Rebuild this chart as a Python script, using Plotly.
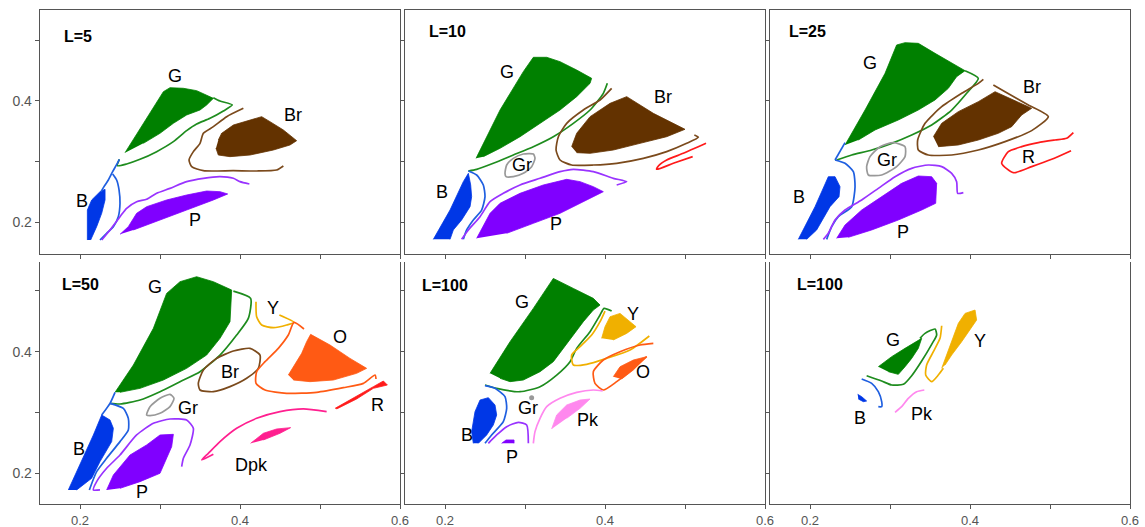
import plotly.graph_objects as go

# ---------------- axes / ticks ----------------
X_RANGE = [0.15, 0.6]
Y_RANGE_TOP = [0.1471, 0.5504]
Y_RANGE_BOTTOM = [0.15, 0.5475]
X_TICKS = [0.2, 0.3, 0.4, 0.5, 0.6]
X_TICK_TEXT = ["0.2", "", "0.4", "", "0.6"]
Y_TICKS = [0.2, 0.3, 0.4, 0.5]
Y_TICK_TEXT = ["0.2", "", "0.4", ""]
PANEL_TITLES = ["L=5", "L=10", "L=25", "L=50", "L=100", "L=100"]
TITLE_X = [0.177, 0.1771, 0.1708, 0.175, 0.1688, 0.1813]
TITLE_Y = [0.507, 0.5146, 0.5146, 0.5107, 0.5096, 0.5107]

COL = {
    "G": "#008000", "Gl": "#1e8c1e",
    "Br": "#633200", "Brl": "#7b4a1c",
    "B": "#0037e6", "Bl": "#1f5fe0",
    "P": "#8000ff", "Pl": "#9933ff",
    "Gr": "#999999", "R": "#ff1a1a",
    "Y": "#f0b000", "O": "#ff5a14",
    "Dpk": "#ff1f8f", "Pk": "#ff88ee",
}

# ---------------- Panel 1: L=5 ----------------
p1_G_fill_x = [0.2563,0.3042,0.3125,0.3292,0.3458,0.3667,0.3583,0.35,0.3333,0.3167,0.3,0.2792]
p1_G_fill_y = [0.3146,0.4154,0.422,0.421,0.4171,0.4044,0.3934,0.3851,0.3769,0.3631,0.3466,0.33]
p1_G_line_x = [0.2492,0.2467,0.2583,0.275,0.2958,0.3167,0.3333,0.3458,0.3625,0.3792,0.3904,0.375,0.3667]
p1_G_line_y = [0.3036,0.2931,0.2959,0.3036,0.3163,0.3328,0.351,0.362,0.3713,0.3835,0.3934,0.4,0.4055]
p1_Br_fill_x = [0.3729,0.3771,0.3917,0.4125,0.4271,0.4375,0.4542,0.4708,0.4625,0.4417,0.4125,0.3875,0.3729,0.37]
p1_Br_fill_y = [0.3355,0.3466,0.3603,0.3686,0.3741,0.3658,0.3521,0.3344,0.3273,0.319,0.3107,0.308,0.3107,0.3218]
p1_Br_line_x = [0.4042,0.3833,0.3667,0.3542,0.35,0.3417,0.3363,0.3396,0.3542,0.3917,0.4208,0.4458,0.4542]
p1_Br_line_y = [0.3879,0.3741,0.3576,0.3466,0.33,0.3163,0.3025,0.2915,0.2848,0.2848,0.2843,0.2859,0.2926]
p1_B_fill_x = [0.2092,0.2092,0.2146,0.225,0.2313,0.2313,0.2271,0.2208,0.2133]
p1_B_fill_y = [0.1702,0.2198,0.2364,0.2501,0.254,0.2364,0.2143,0.1923,0.1702]
p1_B_line1_x = [0.2492,0.245,0.2408,0.2354,0.23,0.2263]
p1_B_line1_y = [0.3036,0.2931,0.2832,0.2694,0.2584,0.2501]
p1_B_line2_x = [0.2408,0.2458,0.2488,0.25,0.2479,0.2417,0.2333,0.225]
p1_B_line2_y = [0.2793,0.2694,0.2529,0.2309,0.2088,0.1923,0.1813,0.1702]
p1_P_line_x = [0.2271,0.2375,0.25,0.2583,0.2708,0.2833,0.2958,0.3125,0.3333,0.3542,0.375,0.3917,0.4,0.4117]
p1_P_line_y = [0.1702,0.1868,0.2088,0.2226,0.2336,0.2375,0.2474,0.2556,0.2667,0.2722,0.2749,0.2722,0.2667,0.2628]
p1_P_fill_x = [0.25,0.2604,0.2708,0.2833,0.3083,0.3333,0.3583,0.375,0.3846,0.3667,0.3333,0.3,0.2667]
p1_P_fill_y = [0.1796,0.1923,0.2143,0.2253,0.2364,0.2446,0.2512,0.2501,0.2463,0.2364,0.2198,0.2033,0.1868]

# ---------------- Panel 2: L=10 ----------------
p2_G_fill_x = [0.2388,0.2688,0.2979,0.3104,0.3271,0.3438,0.3646,0.3833,0.3813,0.3646,0.3438,0.3188,0.2938,0.2688,0.2479]
p2_G_fill_y = [0.3052,0.3851,0.4485,0.4722,0.4722,0.465,0.4512,0.4375,0.4292,0.4072,0.3851,0.3631,0.341,0.3218,0.308]
p2_G_line_x = [0.2292,0.2396,0.2604,0.2854,0.3104,0.3354,0.3604,0.3813,0.3979,0.4029]
p2_G_line_y = [0.2843,0.287,0.297,0.3107,0.3245,0.341,0.3631,0.3851,0.4127,0.4292]
p2_Br_fill_x = [0.3583,0.3646,0.3813,0.4063,0.4271,0.4604,0.5,0.4771,0.4438,0.4104,0.3813,0.3646]
p2_Br_fill_y = [0.3245,0.3466,0.3741,0.3961,0.4072,0.3796,0.3532,0.341,0.33,0.319,0.3135,0.3146]
p2_Br_line_x = [0.4083,0.3938,0.3729,0.3521,0.3417,0.3388,0.3438,0.3583,0.3854,0.4146,0.4479,0.4771,0.5021,0.5167,0.5117]
p2_Br_line_y = [0.4209,0.4017,0.3851,0.3631,0.341,0.319,0.3025,0.2942,0.2942,0.297,0.3052,0.3163,0.33,0.34,0.3438]
p2_R_line_x = [0.5263,0.4979,0.4771,0.4667,0.4646,0.4854,0.5096]
p2_R_line_y = [0.33,0.3135,0.3025,0.2926,0.287,0.297,0.308]
p2_Gr_line_x = [0.275,0.2771,0.2854,0.2979,0.3104,0.3125,0.3083,0.2979,0.2854,0.2763,0.275]
p2_Gr_line_y = [0.2804,0.2942,0.3052,0.3124,0.3124,0.3052,0.2915,0.2804,0.2749,0.2749,0.2804]
p2_B_fill_x = [0.1854,0.2063,0.2229,0.2292,0.2321,0.2333,0.2313,0.2208,0.2104,0.2063]
p2_B_fill_y = [0.1713,0.2198,0.2667,0.2804,0.2612,0.2419,0.2253,0.2033,0.1868,0.1713]
p2_B_line_x = [0.2292,0.2396,0.2479,0.25,0.2458,0.2354,0.2271,0.2229]
p2_B_line_y = [0.2843,0.2777,0.2612,0.2419,0.2198,0.2033,0.1868,0.1713]
p2_P_line_x = [0.2208,0.2292,0.2438,0.2563,0.2729,0.2938,0.3188,0.3438,0.3604,0.3854,0.4104,0.4271,0.4146]
p2_P_line_y = [0.1713,0.1868,0.2088,0.2336,0.2474,0.2612,0.2722,0.2832,0.2871,0.2832,0.2722,0.2667,0.2612]
p2_P_fill_x = [0.2396,0.2563,0.2688,0.2938,0.3229,0.3521,0.3688,0.3854,0.3979,0.3771,0.3438,0.3104,0.2771]
p2_P_fill_y = [0.173,0.2143,0.2309,0.2474,0.2612,0.2705,0.2667,0.2584,0.2501,0.2364,0.2143,0.1978,0.1813]

# ---------------- Panel 3: L=25 ----------------
p3_G_fill_x = [0.2438,0.2688,0.2938,0.3083,0.3188,0.3354,0.3563,0.3771,0.3938,0.3833,0.3729,0.3563,0.3354,0.3104,0.2813,0.2604]
p3_G_fill_y = [0.3273,0.3851,0.4457,0.4926,0.4964,0.4953,0.4788,0.4623,0.4501,0.4402,0.4209,0.4017,0.3851,0.3686,0.3521,0.3355]
p3_G_line_x = [0.2333,0.2521,0.2771,0.3021,0.3271,0.3521,0.3771,0.3958,0.4104,0.3938]
p3_G_line_y = [0.3025,0.3107,0.319,0.33,0.3438,0.3603,0.3851,0.4127,0.4375,0.4501]
p3_B_line1_x = [0.2438,0.2313]
p3_B_line1_y = [0.3311,0.3025]
p3_B_line2_x = [0.2313,0.2438,0.2542,0.2563,0.2521,0.2354,0.2271,0.2208]
p3_B_line2_y = [0.3025,0.297,0.2832,0.2584,0.2253,0.2088,0.1923,0.1713]
p3_B_fill_x = [0.1854,0.2063,0.2229,0.2313,0.2375,0.2363,0.225,0.2083,0.1958]
p3_B_fill_y = [0.1713,0.2253,0.2749,0.2749,0.2584,0.2419,0.2253,0.1868,0.1713]
p3_Br_fill_x = [0.3542,0.3646,0.3854,0.4104,0.4313,0.4771,0.4646,0.4521,0.4354,0.4104,0.3854,0.3604]
p3_Br_fill_y = [0.341,0.3631,0.3824,0.3989,0.4154,0.3879,0.3769,0.3576,0.3466,0.3355,0.3273,0.3245]
p3_Br_line_x = [0.4167,0.4104,0.3896,0.3646,0.3438,0.3346,0.3354,0.3479,0.3771,0.4104,0.4438,0.4771,0.4979,0.4729,0.4438,0.4292]
p3_Br_line_y = [0.4358,0.4292,0.4127,0.3906,0.3631,0.3355,0.319,0.3107,0.3107,0.319,0.3328,0.351,0.3741,0.3934,0.4154,0.4264]
p3_R_line_x = [0.5292,0.5208,0.5063,0.4854,0.4646,0.4479,0.4396,0.4542,0.4771,0.5021,0.5263]
p3_R_line_y = [0.3477,0.3383,0.3355,0.3311,0.3245,0.3163,0.297,0.2815,0.2915,0.3036,0.3179]
p3_Gr_line_x = [0.2708,0.275,0.2875,0.3042,0.3188,0.3188,0.3083,0.2896,0.2729,0.2708]
p3_Gr_line_y = [0.2915,0.308,0.3245,0.3311,0.3245,0.308,0.2915,0.2777,0.2777,0.2915]
p3_P_line_x = [0.2167,0.2229,0.2313,0.2438,0.2646,0.2854,0.3063,0.3271,0.3479,0.3646,0.3771,0.3833,0.3846,0.3917]
p3_P_line_y = [0.1713,0.1813,0.2033,0.2198,0.2364,0.2556,0.2749,0.2887,0.2942,0.2915,0.2804,0.2667,0.2474,0.2485]
p3_P_fill_x = [0.2333,0.2438,0.2646,0.2896,0.3146,0.3354,0.3521,0.3583,0.3571,0.3396,0.3104,0.2771,0.2479]
p3_P_fill_y = [0.173,0.195,0.2198,0.2419,0.2639,0.276,0.2749,0.2639,0.2309,0.2198,0.2033,0.1868,0.1747]

# ---------------- Panel 4: L=50 ----------------
p4_G_fill_x = [0.2438,0.2667,0.2917,0.3083,0.325,0.3458,0.3667,0.3896,0.3875,0.375,0.3583,0.3333,0.3042,0.275,0.25]
p4_G_fill_y = [0.3332,0.3781,0.4384,0.4959,0.5151,0.5233,0.5151,0.5014,0.4493,0.4219,0.3945,0.3726,0.3534,0.3397,0.3332]
p4_G_line_x = [0.2375,0.25,0.275,0.3,0.325,0.35,0.375,0.3958,0.4104,0.4133,0.3917]
p4_G_line_y = [0.3151,0.314,0.3205,0.3342,0.3507,0.3671,0.3945,0.4274,0.4548,0.4877,0.4997]
p4_B_fill_x = [0.1854,0.2,0.2167,0.2271,0.2375,0.2417,0.2396,0.225,0.2146,0.1958]
p4_B_fill_y = [0.1726,0.2137,0.263,0.2959,0.2877,0.274,0.2521,0.2192,0.1918,0.1726]
p4_B_line1_x = [0.2438,0.2375,0.2271]
p4_B_line1_y = [0.3332,0.3151,0.2959]
p4_B_line2_x = [0.2375,0.2542,0.2604,0.2604,0.25,0.2333,0.2208,0.2117]
p4_B_line2_y = [0.3151,0.3068,0.2904,0.2712,0.2521,0.2247,0.2027,0.1726]
p4_P_line_x = [0.225,0.2167,0.2208,0.2333,0.25,0.2708,0.2917,0.3125,0.3333,0.3417,0.3375,0.3292,0.3271]
p4_P_line_y = [0.1726,0.1726,0.1863,0.2082,0.2301,0.263,0.2822,0.2893,0.2877,0.274,0.2466,0.2247,0.211]
p4_P_fill_x = [0.2333,0.2417,0.2625,0.2833,0.3,0.3167,0.3146,0.3083,0.3042,0.3,0.275,0.25]
p4_P_fill_y = [0.1726,0.1973,0.2301,0.2466,0.263,0.2641,0.2438,0.2247,0.2137,0.2,0.1863,0.1753]
p4_Gr_line_x = [0.2833,0.2875,0.3,0.3125,0.3175,0.3125,0.3,0.2875,0.2833]
p4_Gr_line_y = [0.2959,0.3096,0.3233,0.3299,0.3233,0.3096,0.2986,0.2948,0.2959]
p4_Br_line_x = [0.3479,0.3542,0.3708,0.3917,0.4125,0.425,0.4229,0.4083,0.3875,0.3667,0.35,0.3479]
p4_Br_line_y = [0.3479,0.3699,0.389,0.4011,0.4055,0.3945,0.3726,0.3562,0.3425,0.3342,0.337,0.3479]
p4_Y_line_x = [0.42,0.4208,0.4271,0.4417,0.4583,0.4675,0.4492]
p4_Y_line_y = [0.4822,0.4575,0.4438,0.4395,0.4438,0.4482,0.4603]
p4_O_line_x = [0.48,0.4675,0.4604,0.4479,0.4313,0.4208,0.42,0.4313,0.4583,0.4958,0.5292,0.5542,0.5688,0.57]
p4_O_line_y = [0.4373,0.4482,0.4274,0.4055,0.3836,0.3671,0.3479,0.337,0.3315,0.3332,0.3408,0.3479,0.3616,0.3551]
p4_O_fill_x = [0.4604,0.4667,0.4771,0.4833,0.4883,0.5125,0.5375,0.5583,0.5458,0.5167,0.4875,0.4667]
p4_O_fill_y = [0.3616,0.3753,0.3973,0.4164,0.4285,0.411,0.389,0.3726,0.3644,0.3534,0.3507,0.3534]
p4_R_fill_x = [0.5188,0.5417,0.5667,0.5792,0.5842,0.5667,0.5458,0.5208]
p4_R_fill_y = [0.3068,0.3233,0.3425,0.3518,0.3452,0.3397,0.3222,0.3058]
p4_Dpk_line_x = [0.3667,0.3521,0.3604,0.375,0.3958,0.4208,0.45,0.4792,0.5083]
p4_Dpk_line_y = [0.2312,0.2219,0.2329,0.2521,0.274,0.2904,0.3014,0.3058,0.3014]
p4_Dpk_fill_x = [0.4133,0.4292,0.4458,0.4633,0.45,0.4292]
p4_Dpk_fill_y = [0.2493,0.2658,0.2729,0.2751,0.2658,0.2548]

# ---------------- Panel 5: L=100 ----------------
p5_G_fill_x = [0.2563,0.2813,0.3104,0.3354,0.3604,0.3854,0.3938,0.3854,0.3729,0.3604,0.3479,0.3354,0.3188,0.2979,0.2813,0.2688]
p5_G_fill_y = [0.3644,0.4164,0.4712,0.5205,0.5041,0.4877,0.4767,0.4685,0.4493,0.4274,0.4055,0.3836,0.3671,0.3534,0.3507,0.3562]
p5_G_line_x = [0.25,0.2646,0.2938,0.3188,0.3396,0.3563,0.3646,0.3813,0.3938,0.3988,0.4083]
p5_G_line_y = [0.3452,0.3397,0.3342,0.3425,0.3616,0.3836,0.4055,0.4329,0.4603,0.4712,0.4668]
p5_Y_fill_x = [0.3958,0.4,0.4063,0.4188,0.4313,0.4388,0.4271,0.4104]
p5_Y_fill_y = [0.4219,0.4411,0.4575,0.463,0.4493,0.4411,0.4301,0.4192]
p5_Y_line_x = [0.4,0.3938,0.3833,0.3688,0.3583,0.3604,0.3771,0.4021,0.4313,0.4554]
p5_Y_line_y = [0.4668,0.4493,0.4274,0.4082,0.3945,0.3781,0.3792,0.389,0.4027,0.4258]
p5_O_line_x = [0.4604,0.4438,0.4188,0.3979,0.3854,0.3875,0.3979,0.4146,0.4354,0.4521]
p5_O_line_y = [0.4137,0.411,0.4,0.3863,0.3671,0.3479,0.337,0.3507,0.3726,0.3918]
p5_O_fill_x = [0.4104,0.4188,0.4354,0.4521,0.4354,0.4208]
p5_O_fill_y = [0.3589,0.3753,0.3863,0.3918,0.3699,0.3551]
p5_Pk_line_x = [0.3104,0.3125,0.3188,0.3271,0.3438,0.3646,0.3854,0.3971]
p5_Pk_line_y = [0.2493,0.2685,0.2904,0.3096,0.3233,0.3332,0.337,0.3353]
p5_Pk_fill_x = [0.3333,0.3396,0.3521,0.3688,0.3813,0.3688,0.3521]
p5_Pk_fill_y = [0.2729,0.2959,0.3123,0.3205,0.3222,0.3068,0.2904]
p5_B_fill_x = [0.2354,0.2333,0.2375,0.2438,0.2542,0.2625,0.2646,0.2604,0.2521,0.2417]
p5_B_fill_y = [0.2493,0.2685,0.3014,0.3205,0.3244,0.3123,0.2959,0.2795,0.263,0.2493]
p5_B_line_x = [0.25,0.2625,0.275,0.2771,0.2729,0.2583,0.25]
p5_B_line_y = [0.3441,0.3397,0.326,0.3068,0.2849,0.263,0.2493]
p5_P_line_x = [0.2542,0.2646,0.2771,0.2917,0.3021,0.3042]
p5_P_line_y = [0.2493,0.263,0.2767,0.2838,0.2795,0.2493]
p5_P_fill_x = [0.2708,0.2763,0.2863,0.2863]
p5_P_fill_y = [0.2493,0.2548,0.2548,0.2493]
p5_Gr_dot_x = [0.3083]
p5_Gr_dot_y = [0.3244]

# ---------------- Panel 6: L=100 ----------------
p6_G_fill_x = [0.2854,0.3021,0.3188,0.3396,0.3354,0.3271,0.3188,0.3104,0.2979]
p6_G_fill_y = [0.3753,0.3918,0.4055,0.4219,0.4055,0.389,0.3753,0.3627,0.3671]
p6_G_line_x = [0.2708,0.2896,0.3021,0.3167,0.3271,0.3396,0.3521,0.3583,0.3563,0.3438,0.3375]
p6_G_line_y = [0.3605,0.3518,0.3452,0.3463,0.3605,0.3847,0.4121,0.4274,0.4373,0.4301,0.4219]
p6_Y_fill_x = [0.3646,0.3708,0.3792,0.3854,0.3938,0.4063,0.4083,0.4,0.3896,0.3771,0.3688]
p6_Y_fill_y = [0.3726,0.3945,0.4219,0.4466,0.463,0.4685,0.4521,0.4356,0.4164,0.3945,0.3781]
p6_Y_line_x = [0.3646,0.3625,0.3542,0.3458,0.3446,0.3521,0.3604,0.3667]
p6_Y_line_y = [0.4427,0.4219,0.4,0.3781,0.3616,0.3507,0.3616,0.3726]
p6_B_fill_x = [0.2596,0.2646,0.2708,0.2667,0.2604]
p6_B_fill_y = [0.3299,0.326,0.3189,0.3178,0.3222]
p6_B_line_x = [0.2646,0.2771,0.2854,0.2896,0.2896,0.2854]
p6_B_line_y = [0.3551,0.3479,0.3342,0.3178,0.3096,0.3096]
p6_Pk_line_x = [0.3063,0.3146,0.3229,0.3333,0.3429]
p6_Pk_line_y = [0.3003,0.3096,0.3233,0.3342,0.337]

# ---------------- region labels ----------------
LABEL_PANEL = [1,1,1,1, 2,2,2,2,2, 3,3,3,3,3,3, 4,4,4,4,4,4,4,4,4, 5,5,5,5,5,5,5, 6,6,6,6]
LABEL_TEXT = ["G","Br","B","P",
              "G","Br","Gr","B","P",
              "G","Br","Gr","R","B","P",
              "G","Y","O","Br","Gr","R","B","Dpk","P",
              "G","Y","O","Gr","Pk","B","P",
              "G","Y","B","Pk"]
LABEL_X = [0.3188,0.4658,0.2021,0.3438,
           0.2771,0.4729,0.2958,0.1958,0.3388,
           0.275,0.4771,0.2958,0.4729,0.1867,0.3167,
           0.2938,0.4408,0.525,0.3875,0.3346,0.5721,0.1988,0.4146,0.2771,
           0.2958,0.4354,0.4471,0.3042,0.3783,0.2271,0.2833,
           0.3033,0.4125,0.2625,0.3396]
LABEL_Y = [0.4413,0.3769,0.2347,0.2033,
           0.4485,0.4061,0.2942,0.2501,0.1967,
           0.4623,0.4226,0.3025,0.308,0.2419,0.184,
           0.5068,0.4723,0.4247,0.3671,0.3079,0.3123,0.2395,0.2137,0.1699,
           0.4822,0.4614,0.3671,0.3079,0.2877,0.263,0.2274,
           0.4192,0.4175,0.2904,0.297]

# (panel, kind, colour key, xs, ys)
REGIONS = [
    (1,"fill","G",p1_G_fill_x,p1_G_fill_y),(1,"line","Gl",p1_G_line_x,p1_G_line_y),
    (1,"fill","Br",p1_Br_fill_x,p1_Br_fill_y),(1,"line","Brl",p1_Br_line_x,p1_Br_line_y),
    (1,"fill","B",p1_B_fill_x,p1_B_fill_y),(1,"line","Bl",p1_B_line1_x,p1_B_line1_y),
    (1,"line","Bl",p1_B_line2_x,p1_B_line2_y),(1,"line","Pl",p1_P_line_x,p1_P_line_y),
    (1,"fill","P",p1_P_fill_x,p1_P_fill_y),
    (2,"fill","G",p2_G_fill_x,p2_G_fill_y),(2,"line","Gl",p2_G_line_x,p2_G_line_y),
    (2,"fill","Br",p2_Br_fill_x,p2_Br_fill_y),(2,"line","Brl",p2_Br_line_x,p2_Br_line_y),
    (2,"line","R",p2_R_line_x,p2_R_line_y),(2,"line","Gr",p2_Gr_line_x,p2_Gr_line_y),
    (2,"fill","B",p2_B_fill_x,p2_B_fill_y),(2,"line","Bl",p2_B_line_x,p2_B_line_y),
    (2,"line","Pl",p2_P_line_x,p2_P_line_y),(2,"fill","P",p2_P_fill_x,p2_P_fill_y),
    (3,"fill","G",p3_G_fill_x,p3_G_fill_y),(3,"line","Gl",p3_G_line_x,p3_G_line_y),
    (3,"line","Bl",p3_B_line1_x,p3_B_line1_y),(3,"line","Bl",p3_B_line2_x,p3_B_line2_y),
    (3,"fill","B",p3_B_fill_x,p3_B_fill_y),
    (3,"fill","Br",p3_Br_fill_x,p3_Br_fill_y),(3,"line","Brl",p3_Br_line_x,p3_Br_line_y),
    (3,"line","R",p3_R_line_x,p3_R_line_y),(3,"line","Gr",p3_Gr_line_x,p3_Gr_line_y),
    (3,"line","Pl",p3_P_line_x,p3_P_line_y),(3,"fill","P",p3_P_fill_x,p3_P_fill_y),
    (4,"fill","G",p4_G_fill_x,p4_G_fill_y),(4,"line","Gl",p4_G_line_x,p4_G_line_y),
    (4,"fill","B",p4_B_fill_x,p4_B_fill_y),(4,"line","Bl",p4_B_line1_x,p4_B_line1_y),
    (4,"line","Bl",p4_B_line2_x,p4_B_line2_y),(4,"line","Pl",p4_P_line_x,p4_P_line_y),
    (4,"fill","P",p4_P_fill_x,p4_P_fill_y),(4,"line","Gr",p4_Gr_line_x,p4_Gr_line_y),
    (4,"line","Brl",p4_Br_line_x,p4_Br_line_y),(4,"line","Y",p4_Y_line_x,p4_Y_line_y),
    (4,"line","O",p4_O_line_x,p4_O_line_y),(4,"fill","O",p4_O_fill_x,p4_O_fill_y),
    (4,"fill","R",p4_R_fill_x,p4_R_fill_y),(4,"line","Dpk",p4_Dpk_line_x,p4_Dpk_line_y),
    (4,"fill","Dpk",p4_Dpk_fill_x,p4_Dpk_fill_y),
    (5,"fill","G",p5_G_fill_x,p5_G_fill_y),(5,"line","Gl",p5_G_line_x,p5_G_line_y),
    (5,"fill","Y",p5_Y_fill_x,p5_Y_fill_y),(5,"line","Y",p5_Y_line_x,p5_Y_line_y),
    (5,"line","O",p5_O_line_x,p5_O_line_y),(5,"fill","O",p5_O_fill_x,p5_O_fill_y),
    (5,"line","Pk",p5_Pk_line_x,p5_Pk_line_y),(5,"fill","Pk",p5_Pk_fill_x,p5_Pk_fill_y),
    (5,"fill","B",p5_B_fill_x,p5_B_fill_y),(5,"line","Bl",p5_B_line_x,p5_B_line_y),
    (5,"line","Pl",p5_P_line_x,p5_P_line_y),(5,"fill","P",p5_P_fill_x,p5_P_fill_y),
    (5,"dot","Gr",p5_Gr_dot_x,p5_Gr_dot_y),
    (6,"fill","G",p6_G_fill_x,p6_G_fill_y),(6,"line","Gl",p6_G_line_x,p6_G_line_y),
    (6,"fill","Y",p6_Y_fill_x,p6_Y_fill_y),(6,"line","Y",p6_Y_line_x,p6_Y_line_y),
    (6,"fill","B",p6_B_fill_x,p6_B_fill_y),(6,"line","Bl",p6_B_line_x,p6_B_line_y),
    (6,"line","Pk",p6_Pk_line_x,p6_Pk_line_y),
]

# ---------------- layout geometry (pixels of a 1145x527 page) ----------------
W, H = 1145, 527
COL_PX = [(40, 400), (405, 765), (770, 1130)]
ROW_PX = [(10, 254), (262, 503.7)]

FONT = "Liberation Sans, Arial, sans-serif"
AXIS_COLOR = "#555555"

fig = go.Figure()

def ax_name(i, kind):
    return kind if i == 1 else f"{kind}{i}"

for (panel, kind, ck, xs, ys) in REGIONS:
    xa, ya = ax_name(panel, "x"), ax_name(panel, "y")
    c = COL[ck]
    if kind == "fill":
        fig.add_trace(go.Scatter(x=xs, y=ys, xaxis=xa, yaxis=ya, mode="lines",
                                 fill="toself", fillcolor=c,
                                 line=dict(color=c, width=0.8),
                                 hoverinfo="skip", showlegend=False))
    elif kind == "line":
        fig.add_trace(go.Scatter(x=xs, y=ys, xaxis=xa, yaxis=ya, mode="lines",
                                 line=dict(color=c, width=1.7, shape="spline", smoothing=0.6),
                                 hoverinfo="skip", showlegend=False))
    else:
        fig.add_trace(go.Scatter(x=xs, y=ys, xaxis=xa, yaxis=ya, mode="markers",
                                 marker=dict(color=c, size=5),
                                 hoverinfo="skip", showlegend=False))

layout = dict(width=W, height=H, margin=dict(l=0, r=0, t=0, b=0, autoexpand=False),
              paper_bgcolor="white", plot_bgcolor="white", showlegend=False,
              font=dict(family=FONT, color="#444444"))
annotations = []
for p in range(1, 7):
    r = 0 if p <= 3 else 1
    c = (p - 1) % 3
    x0, x1 = COL_PX[c]
    y0, y1 = ROW_PX[r]
    xkey = "xaxis" if p == 1 else f"xaxis{p}"
    ykey = "yaxis" if p == 1 else f"yaxis{p}"
    layout[xkey] = dict(
        domain=[x0 / W, x1 / W], range=X_RANGE, anchor=ax_name(p, "y"),
        tickmode="array", tickvals=X_TICKS,
        ticktext=X_TICK_TEXT if r == 1 else [""] * len(X_TICKS),
        ticks="outside", ticklen=4, tickcolor=AXIS_COLOR, automargin=False,
        showline=True, linecolor=AXIS_COLOR, linewidth=1.3,
        mirror=(r == 0), showgrid=False, zeroline=False,
        tickfont=dict(size=13, color="#555555", family=FONT),
    )
    layout[ykey] = dict(
        domain=[1 - y1 / H, 1 - y0 / H],
        range=Y_RANGE_TOP if r == 0 else Y_RANGE_BOTTOM,
        anchor=ax_name(p, "x"),
        tickmode="array", tickvals=Y_TICKS,
        ticktext=Y_TICK_TEXT if c == 0 else [""] * len(Y_TICKS),
        ticks="outside", ticklen=4, tickcolor=AXIS_COLOR, automargin=False,
        showline=True, linecolor=AXIS_COLOR, linewidth=1.3,
        mirror=True, showgrid=False, zeroline=False,
        tickfont=dict(size=14, color="#555555", family=FONT),
    )
    annotations.append(dict(xref=ax_name(p, "x"), yref=ax_name(p, "y"),
                            x=TITLE_X[p - 1], y=TITLE_Y[p - 1], text=f"<b>{PANEL_TITLES[p-1]}</b>",
                            showarrow=False, xanchor="left", yanchor="middle",
                            font=dict(size=16, color="black", family=FONT)))

for p, t, x, y in zip(LABEL_PANEL, LABEL_TEXT, LABEL_X, LABEL_Y):
    annotations.append(dict(xref=ax_name(p, "x"), yref=ax_name(p, "y"), x=x, y=y, text=t,
                            showarrow=False, xanchor="center", yanchor="middle",
                            font=dict(size=18, color="black", family=FONT)))

layout["annotations"] = annotations
fig.update_layout(**layout)
fig.write_html("out.html", config={"displayModeBar": False, "staticPlot": True},
               post_script="document.body.style.margin='0px';document.body.style.overflow='hidden';")
